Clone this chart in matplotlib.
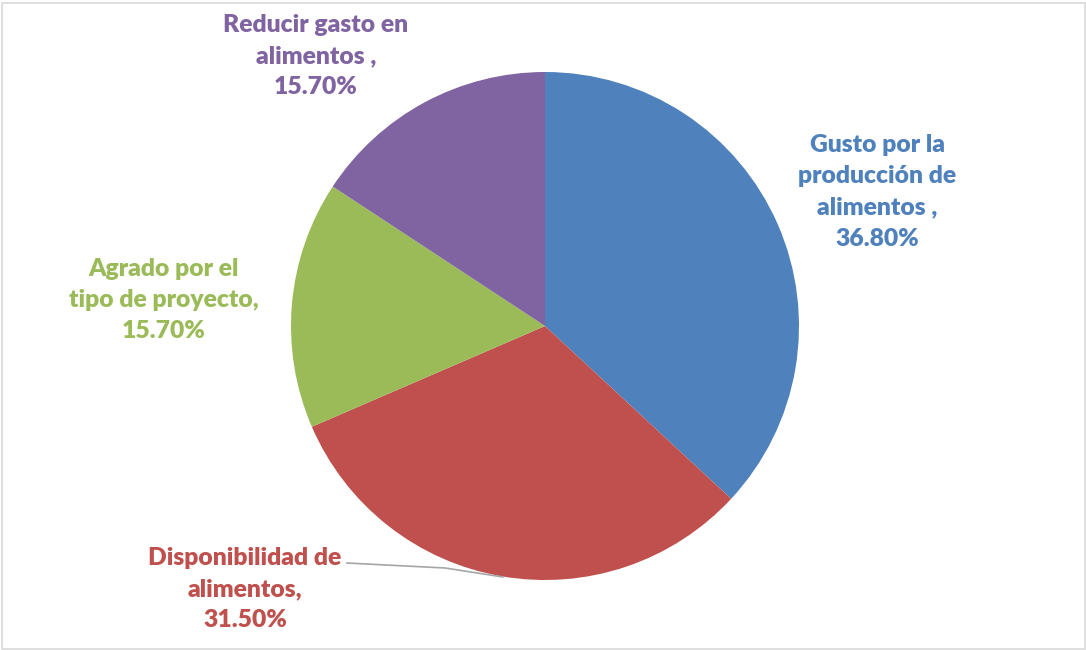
import matplotlib.pyplot as plt
from matplotlib.patches import Rectangle

labels = ["Gusto por la\nproducción de\nalimentos ,",
          "Disponibilidad de\nalimentos,",
          "Agrado por el\ntipo de proyecto,",
          "Reducir gasto en\nalimentos ,"]
values = [36.8, 31.5, 15.7, 15.7]
colors = ["#4F81BD", "#C0504D", "#9BBB59", "#8064A2"]

W, H = 1086, 650
fig = plt.figure(figsize=(W / 100, H / 100), dpi=100)

# light frame around the chart area
fig.add_artist(Rectangle((2 / W, 1.5 / H), (W - 3) / W, (H - 4) / H,
                         transform=fig.transFigure, fill=False,
                         edgecolor="#D9D9D9", linewidth=1.2))

cx, cy, r = 545, H - 326, 254
ax = fig.add_axes([(cx - r) / W, (cy - r) / H, 2 * r / W, 2 * r / H])
ax.pie(values, colors=colors, startangle=90, counterclock=False,
       radius=1, wedgeprops=dict(linewidth=0))
ax.set_xlim(-1, 1)
ax.set_ylim(-1, 1)
ax.set_aspect("equal")
ax.axis("off")

# label centres in pixels
label_pos = [(877, 192), (245, 589), (164, 300), (316, 56)]
for lab, v, c, (px, py) in zip(labels, values, colors, label_pos):
    fig.text(px / W, 1 - py / H, f"{lab}\n{v:.2f}%", ha="center", va="center",
             color=c, fontsize=17.7, fontweight="heavy", family="Lato",
             linespacing=1.52)

# leader line for the red slice
fig.add_artist(plt.Line2D([347 / W, 445 / W, 503 / W],
                          [1 - 563 / H, 1 - 568 / H, 1 - 577 / H],
                          transform=fig.transFigure, color="#A6A6A6",
                          linewidth=1.2))

fig.savefig("out.png", dpi=100)
